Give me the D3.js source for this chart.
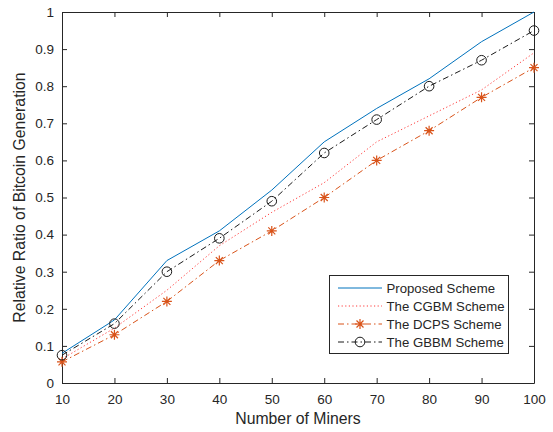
<!DOCTYPE html>
<html>
<head>
<meta charset="utf-8">
<script src="https://cdn.jsdelivr.net/npm/d3@7"></script>
<style>
  body { margin: 0; background: #fff; }
  text { font-family: "Liberation Sans", Arial, sans-serif; fill: #262626; }
</style>
</head>
<body>
<div id="chart"></div>
<script>
// values
const miners = [10, 20, 30, 40, 50, 60, 70, 80, 90, 100];
const proposed = [0.08, 0.17, 0.33, 0.41, 0.52, 0.65, 0.74, 0.82, 0.92, 1.0];
const cgbm = [0.065, 0.148, 0.25, 0.37, 0.46, 0.54, 0.65, 0.72, 0.79, 0.89];
const dcps = [0.057, 0.13, 0.22, 0.33, 0.41, 0.50, 0.60, 0.68, 0.77, 0.85];
const gbbm = [0.075, 0.16, 0.30, 0.39, 0.49, 0.62, 0.71, 0.80, 0.87, 0.95];
const xTicks = [10, 20, 30, 40, 50, 60, 70, 80, 90, 100];
const yTicks = [0, 0.1, 0.2, 0.3, 0.4, 0.5, 0.6, 0.7, 0.8, 0.9, 1];

const series = [
  { name: "Proposed Scheme", vals: proposed, color: "#0072BD", dash: null, marker: null },
  { name: "The CGBM Scheme", vals: cgbm, color: "#FF3B3B", dash: "1.2,2.4", marker: null },
  { name: "The DCPS Scheme", vals: dcps, color: "#D95319", dash: "6,3,1.5,3", marker: "star" },
  { name: "The GBBM Scheme", vals: gbbm, color: "#1a1a1a", dash: "6,3,1.5,3", marker: "circle" }
];

const W = 553, H = 432;
const mLeft = 62, mTop = 12, mRight = 534, mBottom = 383;

const x = d3.scaleLinear().domain([10, 100]).range([mLeft, mRight]);
const y = d3.scaleLinear().domain([0, 1]).range([mBottom, mTop]);

const svg = d3.select("#chart").append("svg")
  .attr("width", W).attr("height", H);

// box + inward ticks
const tickLen = 5;
const axG = svg.append("g");
axG.append("g")
  .attr("transform", "translate(0," + mBottom + ")")
  .call(d3.axisBottom(x).tickValues(xTicks).tickSizeInner(-tickLen).tickSizeOuter(0).tickPadding(11).tickFormat(d3.format("d")));
axG.append("g")
  .attr("transform", "translate(0," + mTop + ")")
  .call(d3.axisTop(x).tickValues(xTicks).tickSizeInner(-tickLen).tickSizeOuter(0).tickFormat(""));
axG.append("g")
  .attr("transform", "translate(" + mLeft + ",0)")
  .call(d3.axisLeft(y).tickValues(yTicks).tickSizeInner(-tickLen).tickSizeOuter(0).tickPadding(8).tickFormat(d => d === 0 || d === 1 ? d : d3.format(".1f")(d)));
axG.append("g")
  .attr("transform", "translate(" + mRight + ",0)")
  .call(d3.axisRight(y).tickValues(yTicks).tickSizeInner(-tickLen).tickSizeOuter(0).tickFormat(""));

axG.selectAll(".domain").attr("stroke", "#262626").attr("stroke-width", 1);
axG.selectAll(".tick line").attr("stroke", "#262626");
axG.selectAll(".tick text").style("font-size", "13.5px").attr("fill", "#262626");

// lines
const line = d3.line().x((d, i) => x(miners[i])).y(d => y(d));
const plot = svg.append("g");
series.forEach(s => {
  plot.append("path")
    .datum(s.vals)
    .attr("d", line)
    .attr("fill", "none")
    .attr("stroke", s.color)
    .attr("stroke-width", 1)
    .attr("stroke-dasharray", s.dash);
});

function drawMarker(g, kind, cx, cy, color) {
  if (kind === "circle") {
    g.append("circle").attr("cx", cx).attr("cy", cy).attr("r", 4.8)
      .attr("fill", "none").attr("stroke", "#1a1a1a").attr("stroke-width", 1);
  } else if (kind === "star") {
    const r = 5;
    const p = "M" + (cx - r) + "," + cy + "L" + (cx + r) + "," + cy +
      "M" + cx + "," + (cy - r) + "L" + cx + "," + (cy + r) +
      "M" + (cx - r * 0.7) + "," + (cy - r * 0.7) + "L" + (cx + r * 0.7) + "," + (cy + r * 0.7) +
      "M" + (cx - r * 0.7) + "," + (cy + r * 0.7) + "L" + (cx + r * 0.7) + "," + (cy - r * 0.7);
    g.append("path").attr("d", p).attr("stroke", color).attr("stroke-width", 1.2).attr("fill", "none");
  }
}

series.forEach(s => {
  if (!s.marker) return;
  s.vals.forEach((v, i) => drawMarker(plot, s.marker, x(miners[i]), y(v), s.color));
});

// axis labels
svg.append("text")
  .attr("x", (mLeft + mRight) / 2).attr("y", 424)
  .attr("text-anchor", "middle")
  .style("font-size", "15.8px")
  .text("Number of Miners");
svg.append("text")
  .attr("transform", "translate(25," + ((mTop + mBottom) / 2) + ") rotate(-90)")
  .attr("text-anchor", "middle")
  .style("font-size", "15.8px")
  .text("Relative Ratio of Bitcoin Generation");

// legend
const lg = svg.append("g");
lg.append("rect")
  .attr("x", 329.5).attr("y", 275.5).attr("width", 179).attr("height", 78)
  .attr("fill", "#fff").attr("stroke", "#262626").attr("stroke-width", 1);
series.forEach((s, i) => {
  const ry = 288 + i * 18;
  lg.append("line")
    .attr("x1", 338).attr("x2", 382).attr("y1", ry).attr("y2", ry)
    .attr("stroke", s.color).attr("stroke-width", 1)
    .attr("stroke-dasharray", s.dash);
  if (s.marker) drawMarker(lg, s.marker, 360, ry, s.color);
  lg.append("text")
    .attr("x", 386.5).attr("y", ry + 4.8)
    .style("font-size", "13.2px")
    .text(s.name);
});
</script>
</body>
</html>
